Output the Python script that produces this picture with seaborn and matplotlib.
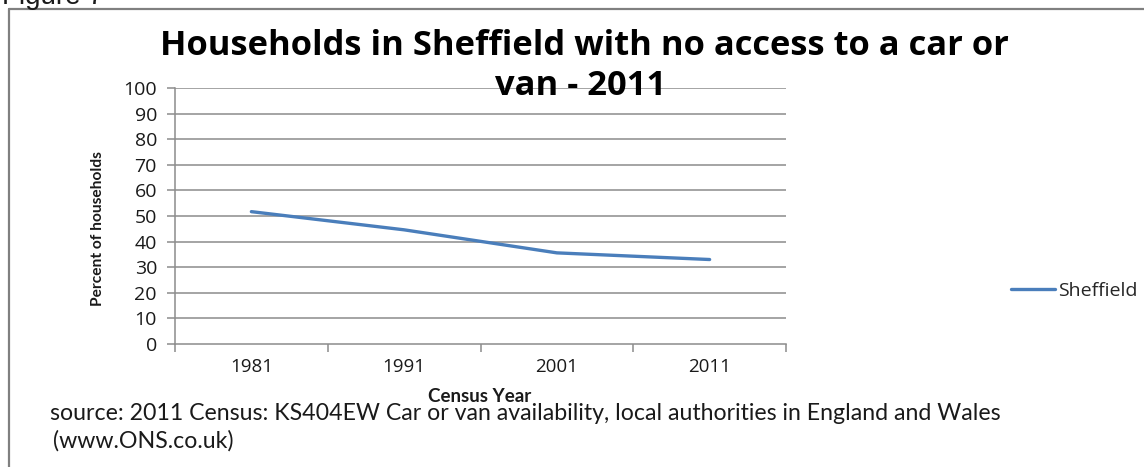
import matplotlib
matplotlib.use("Agg")
import matplotlib.pyplot as plt
from matplotlib.lines import Line2D
import seaborn as sns
import pandas as pd

# Census data: share of Sheffield households with no car or van
years = ["1981", "1991", "2001", "2011"]
no_car_pct = [51.7, 44.6, 35.6, 33.0]
series_name = "Sheffield"
y_ticks = list(range(0, 101, 10))

df = pd.DataFrame({"Census Year": years, "Percent": no_car_pct, "Area": series_name})

sns.set_theme(style="white")
plt.rcParams["font.family"] = ["Open Sans", "DejaVu Sans"]

W, H = 1144, 467
fig = plt.figure(figsize=(W / 100, H / 100), dpi=100)
ax = fig.add_axes([175 / W, 1 - 344 / H, (786 - 175) / W, (344 - 88) / H])

line_color = "#4A7EBB"
grid_color = "#8C8C8C"
text_color = "#1A1A1A"

sns.lineplot(data=df, x="Census Year", y="Percent", ax=ax, color=line_color,
             linewidth=2.4, legend=False, sort=False)

ax.set_xlim(-0.5, len(years) - 0.5)
ax.set_ylim(0, 100)
ax.set_yticks(y_ticks)
ax.set_yticklabels([str(t) for t in y_ticks], fontsize=14, color=text_color)
for t in y_ticks[1:]:
    ax.axhline(t, color=grid_color, linewidth=1.1, zorder=0)

# category boundaries carry tick marks, labels sit at the centres
ax.set_xticks([i - 0.5 for i in range(len(years) + 1)])
ax.set_xticklabels([""] * (len(years) + 1))
ax.set_xticks(range(len(years)), minor=True)
ax.set_xticklabels(years, minor=True, fontsize=13.5, color=text_color)
ax.tick_params(axis="x", which="major", length=6, width=1.1, color=grid_color, direction="out", bottom=True)
ax.tick_params(axis="x", which="minor", length=0, pad=10)
ax.tick_params(axis="y", length=6, width=1.1, color=grid_color, direction="out", left=True, pad=7)

for side in ["top", "right"]:
    ax.spines[side].set_visible(False)
for side in ["left", "bottom"]:
    ax.spines[side].set_color(grid_color)
    ax.spines[side].set_linewidth(1.1)

ax.set_xlabel("")
ax.set_ylabel("")

label_font = ["Lato", "DejaVu Sans"]
fig.text(98 / W, 1 - 229 / H, "Percent of households", rotation=90, ha="center", va="center",
         fontsize=11.2, fontweight="bold", family=label_font, color=text_color)
fig.text(480 / W, 1 - 396 / H, "Census Year", ha="center", va="center",
         fontsize=13.5, fontweight="bold", family=label_font, color=text_color)

fig.text(584 / W, 1 - 46 / H, "Households in Sheffield with no access to a car or",
         ha="center", va="center", fontsize=24.8, fontweight="bold", color="#000000")
fig.text(581 / W, 1 - 86 / H, "van - 2011",
         ha="center", va="center", fontsize=24.8, fontweight="bold", color="#000000")

# legend to the right of the plot
leg_handle = Line2D([0], [0], color=line_color, linewidth=2.4)
fig.legend([leg_handle], [series_name], loc="center left", bbox_to_anchor=(993 / W, 1 - 291 / H),
           frameon=False, fontsize=14, handlelength=2.3, handletextpad=0.15)

fig.text(50 / W, 1 - 414 / H,
         "source: 2011 Census: KS404EW Car or van availability, local authorities in England and Wales",
         ha="left", va="center", fontsize=16.7, family=label_font, color=text_color)
fig.text(53 / W, 1 - 441 / H, "(www.ONS.co.uk)",
         ha="left", va="center", fontsize=16.7, family=label_font, color=text_color)

# figure caption partly above the top edge, and the frame around the chart
fig.text(2 / W, 1 - 4 / H, "Figure 7", ha="left", va="baseline", fontsize=20,
         family=["Liberation Sans", "DejaVu Sans"], color=text_color)
frame_color = "#808080"
fig.add_artist(Line2D([9 / W, 9 / W], [0, 1 - 9 / H], color=frame_color, linewidth=1.6,
                      transform=fig.transFigure))
fig.add_artist(Line2D([9 / W, 1], [1 - 9 / H, 1 - 9 / H], color=frame_color, linewidth=1.6,
                      transform=fig.transFigure))

fig.savefig("out.png", dpi=100)
